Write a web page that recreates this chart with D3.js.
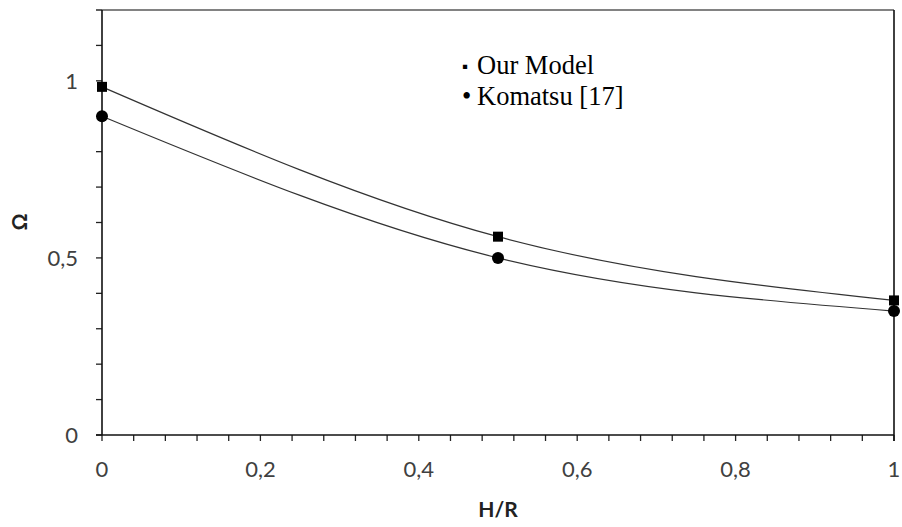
<!DOCTYPE html>
<html>
<head>
<meta charset="utf-8">
<script src="https://cdn.jsdelivr.net/npm/d3@7"></script>
<style>
  body { margin: 0; background: #fff; }
  svg { display: block; }
</style>
</head>
<body>
<svg id="chart" width="902" height="527"></svg>
<script>
// values
const hrValues = [0, 0.5, 1];
const ourModel = [0.983, 0.56, 0.38];
const komatsu = [0.9, 0.5, 0.35];
const legendBullets = ['▪', '•'];
const legendLabels = ['Our Model', 'Komatsu [17]'];
const xTickValues = [0, 0.2, 0.4, 0.6, 0.8, 1];
const yTickValues = [0, 0.5, 1];

const svg = d3.select('#chart');
const plotLeft = 102, plotRight = 894, plotTop = 10, plotBottom = 435;

const x = d3.scaleLinear().domain([0, 1]).range([plotLeft, plotRight]);
const y = d3.scaleLinear().domain([0, 1.2]).range([plotBottom, plotTop]);
const fmt = d => String(d).replace('.', ',');

// minor ticks
svg.append('g').selectAll('line')
  .data(d3.range(0, 1.0001, 0.04))
  .enter().append('line')
  .attr('x1', d => x(d)).attr('x2', d => x(d))
  .attr('y1', plotBottom).attr('y2', plotBottom + 6)
  .attr('stroke', '#222').attr('stroke-width', 1.3);

svg.append('g').selectAll('line')
  .data(d3.range(0, 1.2001, 0.1))
  .enter().append('line')
  .attr('x1', plotLeft - 6).attr('x2', plotLeft)
  .attr('y1', d => y(d)).attr('y2', d => y(d))
  .attr('stroke', '#222').attr('stroke-width', 1.3);

// frame
svg.append('line')
  .attr('x1', plotLeft - 6).attr('x2', plotRight)
  .attr('y1', plotTop).attr('y2', plotTop)
  .attr('stroke', '#595959').attr('stroke-width', 1.6);
svg.append('line')
  .attr('x1', plotRight).attr('x2', plotRight)
  .attr('y1', plotTop).attr('y2', plotBottom + 6)
  .attr('stroke', '#111').attr('stroke-width', 1.6);
svg.append('line')
  .attr('x1', plotLeft).attr('x2', plotLeft)
  .attr('y1', plotTop).attr('y2', plotBottom)
  .attr('stroke', '#111').attr('stroke-width', 1.6);
svg.append('line')
  .attr('x1', plotLeft - 6).attr('x2', plotRight)
  .attr('y1', plotBottom).attr('y2', plotBottom)
  .attr('stroke', '#111').attr('stroke-width', 1.6);

// tick labels
svg.append('g').selectAll('text')
  .data(xTickValues)
  .enter().append('text')
  .attr('x', d => x(d)).attr('y', 477)
  .attr('text-anchor', 'middle')
  .attr('font-family', 'Lato, sans-serif').attr('font-size', 22)
  .attr('fill', '#404040')
  .text(fmt);

svg.append('g').selectAll('text')
  .data(yTickValues)
  .enter().append('text')
  .attr('x', 78).attr('y', d => y(d) + 8)
  .attr('text-anchor', 'end')
  .attr('font-family', 'Lato, sans-serif').attr('font-size', 22)
  .attr('fill', '#404040')
  .text(fmt);

// axis titles
svg.append('text')
  .attr('x', 498).attr('y', 517)
  .attr('text-anchor', 'middle')
  .attr('font-family', 'Lato, sans-serif').attr('font-size', 21)
  .attr('font-weight', 'bold').attr('fill', '#222')
  .text('H/R');

svg.append('text')
  .attr('transform', 'translate(27,222) rotate(-90)')
  .attr('text-anchor', 'middle')
  .attr('font-family', 'Lato, sans-serif').attr('font-size', 21)
  .attr('font-weight', 'bold').attr('fill', '#222')
  .text('Ω');

// curves
const line = d3.line()
  .x((d, i) => x(hrValues[i]))
  .y(d => y(d))
  .curve(d3.curveMonotoneX);

[ourModel, komatsu].forEach(series => {
  svg.append('path')
    .attr('d', line(series))
    .attr('fill', 'none')
    .attr('stroke', '#333')
    .attr('stroke-width', 1.2);
});

// markers
svg.append('g').selectAll('rect')
  .data(ourModel)
  .enter().append('rect')
  .attr('x', (d, i) => x(hrValues[i]) - 5)
  .attr('y', d => y(d) - 5)
  .attr('width', 10).attr('height', 10)
  .attr('fill', '#000');

svg.append('g').selectAll('circle')
  .data(komatsu)
  .enter().append('circle')
  .attr('cx', (d, i) => x(hrValues[i]))
  .attr('cy', d => y(d))
  .attr('r', 6)
  .attr('fill', '#000');

// legend
const legend = svg.append('g').selectAll('text')
  .data(legendLabels)
  .enter().append('text')
  .attr('x', 462).attr('y', (d, i) => 74 + i * 31)
  .attr('font-family', '"Liberation Serif", "Times New Roman", serif')
  .attr('font-size', 26.5)
  .attr('fill', '#000');
legend.append('tspan')
  .attr('font-size', (d, i) => i === 0 ? 17 : 26.5)
  .attr('dy', (d, i) => i === 0 ? -2 : 0)
  .text((d, i) => legendBullets[i]);
legend.append('tspan')
  .attr('x', 477)
  .attr('dy', (d, i) => i === 0 ? 2 : 0)
  .text(d => d);
</script>
</body>
</html>
